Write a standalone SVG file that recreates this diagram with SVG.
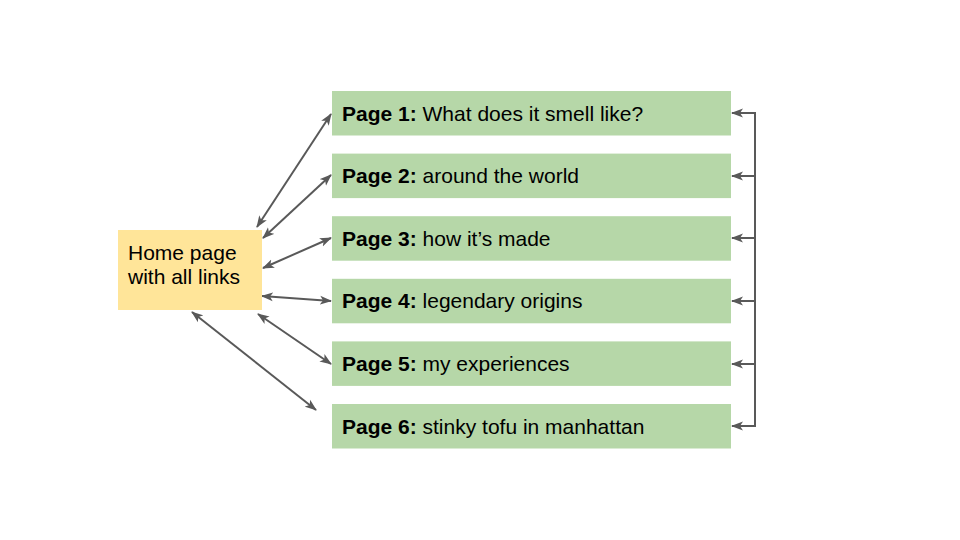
<svg xmlns="http://www.w3.org/2000/svg" width="960" height="540" viewBox="0 0 960 540">
<style>
.page{fill:#b6d7a8}
.home{fill:#ffe599}
.t{font-family:"Liberation Sans",Arial,sans-serif;font-size:21px;fill:#000}
.b{font-weight:bold}
.c{stroke:#595959;stroke-width:2;fill:none}
</style>
<defs>
<marker id="ah" viewBox="0 0 12 10" refX="11" refY="5" markerWidth="12" markerHeight="10" markerUnits="userSpaceOnUse" orient="auto-start-reverse">
<path d="M0,0.5 L12,5 L0,9.5 L3,5 z" fill="#595959"/>
</marker>
</defs>
<rect width="960" height="540" fill="#fff"/>
<g id="connectors">
<line class="c" x1="257" y1="227" x2="331" y2="114" marker-start="url(#ah)" marker-end="url(#ah)"/>
<line class="c" x1="263" y1="238" x2="331" y2="175" marker-start="url(#ah)" marker-end="url(#ah)"/>
<line class="c" x1="263" y1="268" x2="331" y2="238" marker-start="url(#ah)" marker-end="url(#ah)"/>
<line class="c" x1="262" y1="296" x2="331" y2="301" marker-start="url(#ah)" marker-end="url(#ah)"/>
<line class="c" x1="258" y1="314" x2="331" y2="364" marker-start="url(#ah)" marker-end="url(#ah)"/>
<line class="c" x1="192" y1="312" x2="316" y2="410" marker-start="url(#ah)" marker-end="url(#ah)"/>
<path class="c" d="M755,113 V427"/>
<line class="c" x1="756" y1="113" x2="732" y2="113" marker-end="url(#ah)"/>
<line class="c" x1="756" y1="176" x2="732" y2="176" marker-end="url(#ah)"/>
<line class="c" x1="756" y1="238" x2="732" y2="238" marker-end="url(#ah)"/>
<line class="c" x1="756" y1="301" x2="732" y2="301" marker-end="url(#ah)"/>
<line class="c" x1="756" y1="364" x2="732" y2="364" marker-end="url(#ah)"/>
<line class="c" x1="756" y1="426" x2="732" y2="426" marker-end="url(#ah)"/>
</g>
<g id="home">
<rect class="home" x="118" y="230" width="144" height="80"/>
<text class="t" x="128" y="260">Home page</text>
<text class="t" x="128" y="283.5">with all links</text>
</g>
<g id="page1">
<rect class="page" x="332" y="91" width="399" height="44.5"/>
<text class="t" x="342" y="120.5"><tspan class="b">Page 1:</tspan> What does it smell like?</text>
</g>
<g id="page2">
<rect class="page" x="332" y="153.6" width="399" height="44.5"/>
<text class="t" x="342" y="183.2"><tspan class="b">Page 2:</tspan> around the world</text>
</g>
<g id="page3">
<rect class="page" x="332" y="216.2" width="399" height="44.5"/>
<text class="t" x="342" y="245.8"><tspan class="b">Page 3:</tspan> how it’s made</text>
</g>
<g id="page4">
<rect class="page" x="332" y="278.8" width="399" height="44.5"/>
<text class="t" x="342" y="308.4"><tspan class="b">Page 4:</tspan> legendary origins</text>
</g>
<g id="page5">
<rect class="page" x="332" y="341.4" width="399" height="44.5"/>
<text class="t" x="342" y="371"><tspan class="b">Page 5:</tspan> my experiences</text>
</g>
<g id="page6">
<rect class="page" x="332" y="404" width="399" height="44.5"/>
<text class="t" x="342" y="433.6"><tspan class="b">Page 6:</tspan> stinky tofu in manhattan</text>
</g>
</svg>
